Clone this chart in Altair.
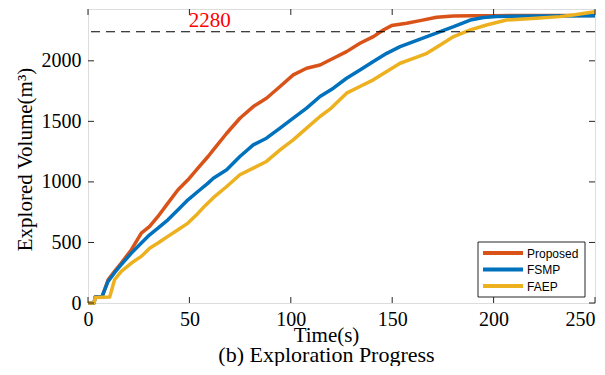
import altair as alt
import pandas as pd

# ---- data ----
series_names = ["Proposed", "FSMP", "FAEP"]
series_colors = ["#D95319", "#0072BD", "#EDB120"]

proposed_t = [0, 3, 3.5, 7, 8, 9.9, 13.1, 16.4, 21.4, 26.3, 30.4, 34.5, 39.4, 44.4, 49.3,
              54.2, 59.2, 61.8, 68.4, 74.9, 81.5, 88, 94.7, 101.2, 107.8, 114.4, 121,
              127.5, 134.1, 140.7, 145.6, 149.7, 157.1, 163.7, 171.9, 180.1, 190, 200, 220, 250]
proposed_v = [0, 0, 50, 54, 100, 192, 261, 330, 440, 577, 632, 715, 825, 935, 1017,
              1114, 1210, 1265, 1402, 1526, 1622, 1691, 1788, 1884, 1939, 1966, 2021,
              2076, 2145, 2200, 2255, 2291, 2310, 2332, 2360, 2370, 2372, 2373, 2374, 2375]

fsmp_t = [0, 3, 3.5, 7, 8, 9.9, 13.1, 16.4, 21.4, 26.3, 30.4, 34.5, 39.4, 44.4, 49.3,
          54.2, 59.2, 61.8, 68.4, 74.9, 81.5, 88, 94.7, 101.2, 107.8, 114.4, 121, 127.5,
          134.1, 140.7, 147.3, 153.9, 160.5, 167.1, 173.7, 180.3, 188.5, 195, 201.5, 220, 250]
fsmp_v = [0, 0, 50, 54, 100, 178, 250, 316, 412, 495, 563, 618, 687, 770, 852,
          921, 990, 1030, 1100, 1210, 1306, 1361, 1444, 1526, 1609, 1705, 1774, 1856,
          1925, 1994, 2062, 2117, 2158, 2200, 2241, 2282, 2337, 2358, 2366, 2370, 2373]

faep_t = [0, 3, 3.5, 10.7, 13.1, 16.4, 21.4, 26.3, 30.4, 34.5, 39.4, 44.4, 49.3, 54.2,
          57.5, 61.8, 68.4, 74.9, 81.5, 88, 94.7, 101.2, 107.8, 114.4, 119.3, 127.5,
          134.1, 140.7, 147.3, 153.9, 160.5, 167.1, 173.7, 180.3, 188.5, 196.5, 206.4,
          221, 232.7, 240, 250]
faep_v = [0, 0, 45, 50, 192, 261, 330, 385, 453, 495, 550, 605, 660, 740,
          800, 870, 962, 1059, 1114, 1169, 1265, 1347, 1444, 1540, 1601, 1733,
          1788, 1843, 1911, 1980, 2021, 2062, 2131, 2200, 2255, 2296, 2337,
          2351, 2365, 2380, 2405]

x_ticks = [0, 50, 100, 150, 200, 250]
y_ticks = [0, 500, 1000, 1500, 2000]
x_domain = [0, 250]
y_domain = [0, 2428]

threshold_value = 2240
threshold_label = "2280"
threshold_label_t = 60

x_title = "Time(s)"
y_title = "Explored Volume(m³)"
caption = "(b) Exploration Progress"

# ---- build tables ----
rows = []
for name, ts, vs in [("Proposed", proposed_t, proposed_v),
                     ("FSMP", fsmp_t, fsmp_v),
                     ("FAEP", faep_t, faep_v)]:
    for i, (t, v) in enumerate(zip(ts, vs)):
        rows.append({"series": name, "t": t, "v": v, "order": i})
df = pd.DataFrame(rows)
xt = pd.DataFrame({"t": x_ticks})
yt = pd.DataFrame({"v": y_ticks})
thr_df = pd.DataFrame({"t": [threshold_label_t], "v": [threshold_value], "label": [threshold_label]})

W, H = 507, 294
SERIF = "Liberation Serif"
SANS = "Liberation Sans"
FRAME = "#262626"

xscale = alt.Scale(domain=x_domain, nice=False, zero=False)
yscale = alt.Scale(domain=y_domain, nice=False, zero=False)

last_x = x_ticks[-1]
x_axis = alt.Axis(values=x_ticks, format="d", ticks=False, tickSize=0, domain=False, grid=False,
                  labelFlush=False, labelOverlap=False,
                  labelAlign={"expr": f"datum.value == {last_x} ? 'right' : 'center'"},
                  labelFont=SERIF, labelFontSize=20, labelColor="black", labelPadding=6,
                  title=x_title, titleFont=SERIF, titleFontSize=21, titleFontWeight="normal",
                  titleColor="black", titleX=238, titleY=38, titleBaseline="alphabetic",
                  titleAlign="center")
y_axis = alt.Axis(values=y_ticks, format="d", ticks=False, tickSize=0, domain=False, grid=False,
                  labelFlush=False, labelOverlap=False,
                  labelFont=SERIF, labelFontSize=20, labelColor="black", labelPadding=7,
                  title=y_title, titleFont=SERIF, titleFontSize=21, titleFontWeight="normal",
                  titleColor="black", titleX=-63, titleY=150, titleBaseline="middle",
                  titleAlign="center")

X = alt.X("t:Q", scale=xscale, axis=x_axis)
Y = alt.Y("v:Q", scale=yscale, axis=y_axis)

lines = alt.Chart(df).mark_line(strokeWidth=3.5, strokeJoin="round").encode(
    x=X, y=Y,
    color=alt.Color("series:N",
                    scale=alt.Scale(domain=series_names, range=series_colors),
                    sort=series_names, legend=None),
    order="order:Q",
)

thr = alt.Chart(thr_df).mark_rule(color="black", strokeWidth=1.2, strokeDash=[9, 6]).encode(y=Y)

thr_text = alt.Chart(thr_df).mark_text(color="#FF0000", font=SERIF, fontSize=21,
                                       baseline="alphabetic", align="center", dy=-5).encode(
    x=X, y=Y, text="label:N")

tick_style = dict(color=FRAME, strokeWidth=1)
bt = alt.Chart(xt).mark_rule(**tick_style).encode(x=X, y=alt.value(H), y2=alt.value(H - 6))
tt = alt.Chart(xt).mark_rule(**tick_style).encode(x=X, y=alt.value(0), y2=alt.value(6))
lt = alt.Chart(yt).mark_rule(**tick_style).encode(y=Y, x=alt.value(0), x2=alt.value(6))
rt = alt.Chart(yt).mark_rule(**tick_style).encode(y=Y, x=alt.value(W - 6), x2=alt.value(W))

cap_df = pd.DataFrame({"text": [caption]})
cap = alt.Chart(cap_df).mark_text(font=SERIF, fontSize=22, color="black",
                                  baseline="alphabetic", align="center").encode(
    x=alt.value(238.5), y=alt.value(352.5), text="text:N")

# ---- manual legend box (MATLAB style) ----
LX, LY, LW, LH = 390, 233, 107, 55
leg_layers = [
    alt.Chart(cap_df).mark_rect(fill="white", stroke=FRAME, strokeWidth=1).encode(
        x=alt.value(LX), x2=alt.value(LX + LW), y=alt.value(LY), y2=alt.value(LY + LH))
]
for i, (name, col) in enumerate(zip(series_names, series_colors)):
    ry = LY + 11 + i * 16.5
    ldf = pd.DataFrame({"name": [name]})
    leg_layers.append(alt.Chart(ldf).mark_rule(color=col, strokeWidth=4).encode(
        x=alt.value(LX + 5), x2=alt.value(LX + 45), y=alt.value(ry)))
    leg_layers.append(alt.Chart(ldf).mark_text(font=SANS, fontSize=12, color="black",
                                               align="left", baseline="middle").encode(
        x=alt.value(LX + 49), y=alt.value(ry + 0.5), text="name:N"))

chart = alt.layer(lines, thr, thr_text, bt, tt, lt, rt, cap, *leg_layers).properties(
    width=W, height=H,
    autosize=alt.AutoSizeParams(type="none"),
    padding={"left": 80, "top": 1, "right": 2, "bottom": 63},
).configure_view(stroke=FRAME, strokeWidth=1).configure(background="white")

chart.save("out.html", embed_options={"renderer": "svg", "actions": False})
